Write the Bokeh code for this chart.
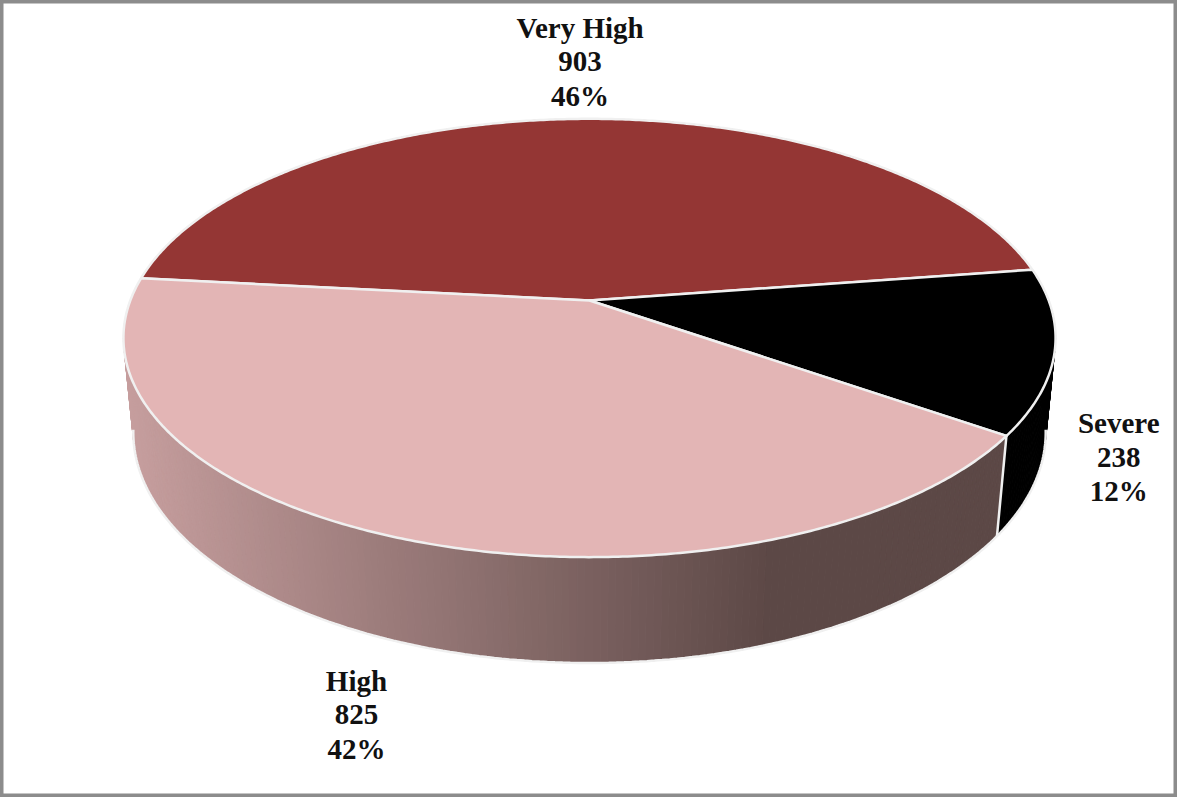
import numpy as np
from bokeh.plotting import figure
from bokeh.models import Range1d
from bokeh.embed import file_html
from bokeh.resources import INLINE
from bokeh.core.properties import value

# ---------------- data ----------------
categories = ["Very High", "Severe", "High"]
counts = [903, 238, 825]

# ---------------- style ----------------
top_colors = ["#943634", "#000000", "#E3B5B5"]
side_dark = {"Very High": (110, 40, 38), "Severe": (0, 0, 0)}
high_side_light = (198, 158, 158)
high_side_dark = (92, 72, 70)
edge_color = "#F0F0F0"
start_deg = 173.9           # first slice begins here, slices run clockwise
label_offsets = [(-1, -57), (64, 106), (-41, 177)]   # pixel offsets from rim point
line_gap = 34

W, H = 1177, 797
CX, CY = 589.0, 300.0
K = 0.171
PHI = np.radians(27.6)
R = K / np.cos(PHI)
F = 459.2 / R
HGT = 0.0452


def proj(theta, s=1.0, z=0.0):
    theta = np.asarray(theta, dtype=float)
    X = s * R * np.cos(theta)
    Y = s * R * np.sin(theta)
    depth = 1 + Y * np.cos(PHI) - z * np.sin(PHI)
    sy = Y * np.sin(PHI) + z * np.cos(PHI)
    return CX + F * X / depth, CY - F * sy / depth


total = float(sum(counts))
fracs = [c / total for c in counts]
starts, ends = [], []
a = np.radians(start_deg)
for f in fracs:
    starts.append(a)
    ends.append(a - f * 2 * np.pi)
    a = a - f * 2 * np.pi

p = figure(width=W, height=H, x_range=Range1d(0, W), y_range=Range1d(H, 0),
           output_backend="svg", toolbar_location=None, min_border=0,
           background_fill_color="white", border_fill_color="white")
p.axis.visible = False
p.grid.visible = False
p.outline_line_color = "#8C8C8C"
p.outline_line_width = 6

# ---------- side strips ----------
strips = []
for i, cat in enumerate(categories):
    n = max(4, int(abs(ends[i] - starts[i]) / np.radians(0.8)))
    th = np.linspace(starts[i], ends[i], n + 1)
    for j in range(n):
        t0, t1 = th[j], th[j + 1]
        xt0, yt0 = proj(t0)
        xt1, yt1 = proj(t1)
        xb1, yb1 = proj(t1, z=-HGT)
        xb0, yb0 = proj(t0, z=-HGT)
        xs = [float(xt0), float(xt1), float(xb1), float(xb0)]
        ys = [float(yt0), float(yt1), float(yb1), float(yb0)]
        if cat == "High":
            xm = np.mean(xs)
            t = float(np.clip((xm - 130) / (770 - 130), 0, 1))
            rgb = tuple(int(round(high_side_light[k] + (high_side_dark[k] - high_side_light[k]) * t)) for k in range(3))
        else:
            rgb = side_dark[cat]
        col = "#%02x%02x%02x" % rgb
        strips.append((np.sin((t0 + t1) / 2), xs, ys, col))

strips.sort(key=lambda s: -s[0])
p.patches([s[1] for s in strips], [s[2] for s in strips],
          fill_color=[s[3] for s in strips], line_color=[s[3] for s in strips],
          line_width=1)

# bottom outline and front boundary lines
thb = np.linspace(np.radians(189), np.radians(351), 200)
bx, by = proj(thb, z=-HGT)
p.line(bx, by, line_color=edge_color, line_width=2.5)
for i in range(len(categories)):
    b = ends[i]
    if np.sin(b) < -K:
        x0, y0 = proj(b)
        x1, y1 = proj(b, z=-HGT)
        p.line([float(x0), float(x1)], [float(y0), float(y1)], line_color=edge_color, line_width=2.5)

# ---------- top faces ----------
txs, tys = [], []
for i in range(len(categories)):
    n = max(8, int(abs(ends[i] - starts[i]) / np.radians(0.5)))
    th = np.linspace(starts[i], ends[i], n + 1)
    x, y = proj(th)
    txs.append([CX] + list(map(float, x)))
    tys.append([CY] + list(map(float, y)))
p.patches(txs, tys, fill_color=top_colors, line_color=edge_color, line_width=2.5,
          line_join="round")

# ---------- labels ----------
lx, ly, lt = [], [], []
for i, cat in enumerate(categories):
    mid = (starts[i] + ends[i]) / 2
    x, y = proj(mid)
    ox, oy = label_offsets[i]
    x = float(x) + ox
    y = float(y) + oy
    pct = int(round(100 * counts[i] / total))
    for k, s in enumerate([cat, str(counts[i]), f"{pct}%"]):
        lx.append(x)
        ly.append(y + (k - 1) * line_gap)
        lt.append(s)
p.text(lx, ly, text=lt, text_align="center", text_baseline="middle",
       text_font=value("Liberation Serif"), text_font_style="bold",
       text_font_size="29px", text_color="#111111")

open("out.html", "w").write(file_html(p, INLINE))
